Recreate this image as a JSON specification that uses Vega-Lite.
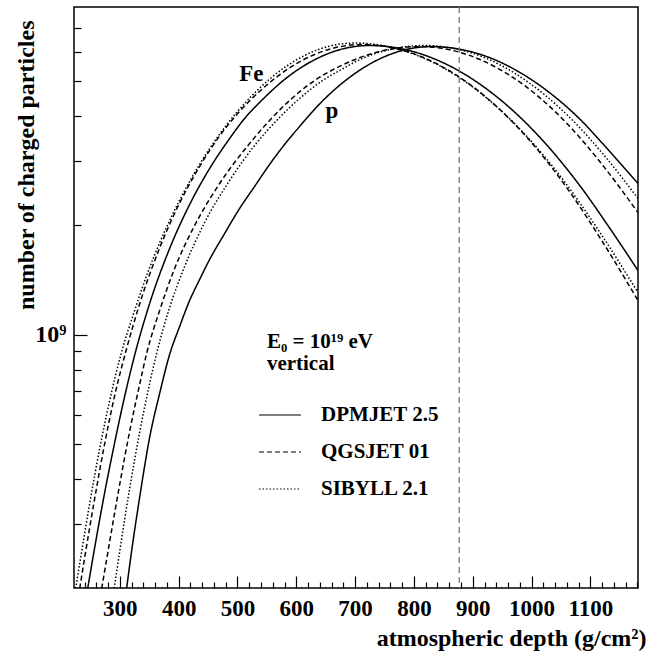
{
  "$schema": "https://vega.github.io/schema/vega-lite/v6.json",
  "width": 564,
  "height": 581,
  "autosize": {"type": "none"},
  "padding": {"left": 74, "top": 7, "right": 11, "bottom": 69},
  "config": {"view": {"stroke": "#000", "strokeWidth": 1.5}, "font": "Liberation Serif"},
  "datasets": {
    "curves": [
      {"model":"DPMJET 2.5","primary":"p","depth":311.5,"n":0.1994e9},
      {"model":"DPMJET 2.5","primary":"p","depth":316.6,"n":0.2307e9},
      {"model":"DPMJET 2.5","primary":"p","depth":333.6,"n":0.3553e9},
      {"model":"DPMJET 2.5","primary":"p","depth":350.6,"n":0.5200e9},
      {"model":"DPMJET 2.5","primary":"p","depth":367.6,"n":0.6876e9},
      {"model":"DPMJET 2.5","primary":"p","depth":384.6,"n":0.8808e9},
      {"model":"DPMJET 2.5","primary":"p","depth":401.6,"n":1.0521e9},
      {"model":"DPMJET 2.5","primary":"p","depth":418.6,"n":1.2410e9},
      {"model":"DPMJET 2.5","primary":"p","depth":435.6,"n":1.4180e9},
      {"model":"DPMJET 2.5","primary":"p","depth":452.6,"n":1.6099e9},
      {"model":"DPMJET 2.5","primary":"p","depth":478.1,"n":1.8988e9},
      {"model":"DPMJET 2.5","primary":"p","depth":503.5,"n":2.2253e9},
      {"model":"DPMJET 2.5","primary":"p","depth":529.0,"n":2.5590e9},
      {"model":"DPMJET 2.5","primary":"p","depth":554.5,"n":2.9428e9},
      {"model":"DPMJET 2.5","primary":"p","depth":580.0,"n":3.3410e9},
      {"model":"DPMJET 2.5","primary":"p","depth":605.5,"n":3.7453e9},
      {"model":"DPMJET 2.5","primary":"p","depth":639.5,"n":4.3210e9},
      {"model":"DPMJET 2.5","primary":"p","depth":685.3,"n":5.041e9},
      {"model":"DPMJET 2.5","primary":"p","depth":724.4,"n":5.563e9},
      {"model":"DPMJET 2.5","primary":"p","depth":775.4,"n":6.040e9},
      {"model":"DPMJET 2.5","primary":"p","depth":829.8,"n":6.223e9},
      {"model":"DPMJET 2.5","primary":"p","depth":877.3,"n":6.121e9},
      {"model":"DPMJET 2.5","primary":"p","depth":928.3,"n":5.804e9},
      {"model":"DPMJET 2.5","primary":"p","depth":979.3,"n":5.290e9},
      {"model":"DPMJET 2.5","primary":"p","depth":1030.3,"n":4.648e9},
      {"model":"DPMJET 2.5","primary":"p","depth":1081.2,"n":3.940e9},
      {"model":"DPMJET 2.5","primary":"p","depth":1132.2,"n":3.206e9},
      {"model":"DPMJET 2.5","primary":"p","depth":1181,"n":2.608e9},

      {"model":"SIBYLL 2.1","primary":"p","depth":290.3,"n":0.1994e9},
      {"model":"SIBYLL 2.1","primary":"p","depth":299.7,"n":0.2522e9},
      {"model":"SIBYLL 2.1","primary":"p","depth":316.6,"n":0.3762e9},
      {"model":"SIBYLL 2.1","primary":"p","depth":333.6,"n":0.5368e9},
      {"model":"SIBYLL 2.1","primary":"p","depth":350.6,"n":0.7327e9},
      {"model":"SIBYLL 2.1","primary":"p","depth":362.5,"n":0.8864e9},
      {"model":"SIBYLL 2.1","primary":"p","depth":384.6,"n":1.1870e9},
      {"model":"SIBYLL 2.1","primary":"p","depth":410.1,"n":1.5399e9},
      {"model":"SIBYLL 2.1","primary":"p","depth":444.1,"n":2.0361e9},
      {"model":"SIBYLL 2.1","primary":"p","depth":486.6,"n":2.6583e9},
      {"model":"SIBYLL 2.1","primary":"p","depth":529.0,"n":3.3196e9},
      {"model":"SIBYLL 2.1","primary":"p","depth":571.5,"n":3.9659e9},
      {"model":"SIBYLL 2.1","primary":"p","depth":605.5,"n":4.4737e9},
      {"model":"SIBYLL 2.1","primary":"p","depth":644.6,"n":5.0156e9},
      {"model":"SIBYLL 2.1","primary":"p","depth":673.5,"n":5.3442e9},
      {"model":"SIBYLL 2.1","primary":"p","depth":715.9,"n":5.8042e9},
      {"model":"SIBYLL 2.1","primary":"p","depth":766.9,"n":6.1453e9},
      {"model":"SIBYLL 2.1","primary":"p","depth":817.9,"n":6.2634e9},
      {"model":"SIBYLL 2.1","primary":"p","depth":868.9,"n":6.1453e9},
      {"model":"SIBYLL 2.1","primary":"p","depth":919.8,"n":5.8042e9},
      {"model":"SIBYLL 2.1","primary":"p","depth":970.8,"n":5.2600e9},
      {"model":"SIBYLL 2.1","primary":"p","depth":1021.8,"n":4.5890e9},
      {"model":"SIBYLL 2.1","primary":"p","depth":1072.7,"n":3.8538e9},
      {"model":"SIBYLL 2.1","primary":"p","depth":1123.7,"n":3.1154e9},
      {"model":"SIBYLL 2.1","primary":"p","depth":1181,"n":2.3712e9},

      {"model":"QGSJET 01","primary":"p","depth":269.1,"n":0.1994e9},
      {"model":"QGSJET 01","primary":"p","depth":282.7,"n":0.2687e9},
      {"model":"QGSJET 01","primary":"p","depth":299.7,"n":0.3859e9},
      {"model":"QGSJET 01","primary":"p","depth":316.6,"n":0.5402e9},
      {"model":"QGSJET 01","primary":"p","depth":333.6,"n":0.7280e9},
      {"model":"QGSJET 01","primary":"p","depth":345.5,"n":0.8864e9},
      {"model":"QGSJET 01","primary":"p","depth":367.6,"n":1.1646e9},
      {"model":"QGSJET 01","primary":"p","depth":393.1,"n":1.5205e9},
      {"model":"QGSJET 01","primary":"p","depth":427.1,"n":1.9977e9},
      {"model":"QGSJET 01","primary":"p","depth":469.6,"n":2.6081e9},
      {"model":"QGSJET 01","primary":"p","depth":520.5,"n":3.3620e9},
      {"model":"QGSJET 01","primary":"p","depth":554.5,"n":3.8907e9},
      {"model":"QGSJET 01","primary":"p","depth":588.5,"n":4.4174e9},
      {"model":"QGSJET 01","primary":"p","depth":631.0,"n":5.0156e9},
      {"model":"QGSJET 01","primary":"p","depth":665.0,"n":5.3989e9},
      {"model":"QGSJET 01","primary":"p","depth":707.4,"n":5.7968e9},
      {"model":"QGSJET 01","primary":"p","depth":758.4,"n":6.1143e9},
      {"model":"QGSJET 01","primary":"p","depth":809.4,"n":6.2240e9},
      {"model":"QGSJET 01","primary":"p","depth":860.4,"n":6.0987e9},
      {"model":"QGSJET 01","primary":"p","depth":911.3,"n":5.7418e9},
      {"model":"QGSJET 01","primary":"p","depth":962.3,"n":5.1904e9},
      {"model":"QGSJET 01","primary":"p","depth":1013.3,"n":4.5079e9},
      {"model":"QGSJET 01","primary":"p","depth":1064.2,"n":3.7594e9},
      {"model":"QGSJET 01","primary":"p","depth":1115.2,"n":3.0104e9},
      {"model":"QGSJET 01","primary":"p","depth":1181,"n":2.1695e9},

      {"model":"DPMJET 2.5","primary":"Fe","depth":245.3,"n":0.1994e9},
      {"model":"DPMJET 2.5","primary":"Fe","depth":257.2,"n":0.2587e9},
      {"model":"DPMJET 2.5","primary":"Fe","depth":274.2,"n":0.3668e9},
      {"model":"DPMJET 2.5","primary":"Fe","depth":291.2,"n":0.5038e9},
      {"model":"DPMJET 2.5","primary":"Fe","depth":308.1,"n":0.6746e9},
      {"model":"DPMJET 2.5","primary":"Fe","depth":326.8,"n":0.8977e9},
      {"model":"DPMJET 2.5","primary":"Fe","depth":350.6,"n":1.2175e9},
      {"model":"DPMJET 2.5","primary":"Fe","depth":384.6,"n":1.7262e9},
      {"model":"DPMJET 2.5","primary":"Fe","depth":418.6,"n":2.2826e9},
      {"model":"DPMJET 2.5","primary":"Fe","depth":452.6,"n":2.8688e9},
      {"model":"DPMJET 2.5","primary":"Fe","depth":486.6,"n":3.4705e9},
      {"model":"DPMJET 2.5","primary":"Fe","depth":512.0,"n":3.9404e9},
      {"model":"DPMJET 2.5","primary":"Fe","depth":540.9,"n":4.4174e9},
      {"model":"DPMJET 2.5","primary":"Fe","depth":576.6,"n":4.9966e9},
      {"model":"DPMJET 2.5","primary":"Fe","depth":605.5,"n":5.4125e9},
      {"model":"DPMJET 2.5","primary":"Fe","depth":639.5,"n":5.8115e9},
      {"model":"DPMJET 2.5","primary":"Fe","depth":682.0,"n":6.1492e9},
      {"model":"DPMJET 2.5","primary":"Fe","depth":724.4,"n":6.2634e9},
      {"model":"DPMJET 2.5","primary":"Fe","depth":775.4,"n":6.1531e9},
      {"model":"DPMJET 2.5","primary":"Fe","depth":826.4,"n":5.8263e9},
      {"model":"DPMJET 2.5","primary":"Fe","depth":877.3,"n":5.3240e9},
      {"model":"DPMJET 2.5","primary":"Fe","depth":928.3,"n":4.6920e9},
      {"model":"DPMJET 2.5","primary":"Fe","depth":979.3,"n":3.9904e9},
      {"model":"DPMJET 2.5","primary":"Fe","depth":1030.3,"n":3.2694e9},
      {"model":"DPMJET 2.5","primary":"Fe","depth":1081.2,"n":2.5850e9},
      {"model":"DPMJET 2.5","primary":"Fe","depth":1132.2,"n":1.9725e9},
      {"model":"DPMJET 2.5","primary":"Fe","depth":1181,"n":1.5012e9},

      {"model":"QGSJET 01","primary":"Fe","depth":231.7,"n":0.1994e9},
      {"model":"QGSJET 01","primary":"Fe","depth":240.2,"n":0.2428e9},
      {"model":"QGSJET 01","primary":"Fe","depth":257.2,"n":0.3531e9},
      {"model":"QGSJET 01","primary":"Fe","depth":274.2,"n":0.5006e9},
      {"model":"QGSJET 01","primary":"Fe","depth":291.2,"n":0.6789e9},
      {"model":"QGSJET 01","primary":"Fe","depth":311.5,"n":0.9150e9},
      {"model":"QGSJET 01","primary":"Fe","depth":333.6,"n":1.2136e9},
      {"model":"QGSJET 01","primary":"Fe","depth":367.6,"n":1.7317e9},
      {"model":"QGSJET 01","primary":"Fe","depth":401.6,"n":2.3044e9},
      {"model":"QGSJET 01","primary":"Fe","depth":435.6,"n":2.9053e9},
      {"model":"QGSJET 01","primary":"Fe","depth":469.6,"n":3.5283e9},
      {"model":"QGSJET 01","primary":"Fe","depth":490.0,"n":3.8907e9},
      {"model":"QGSJET 01","primary":"Fe","depth":520.5,"n":4.4062e9},
      {"model":"QGSJET 01","primary":"Fe","depth":557.9,"n":4.9997e9},
      {"model":"QGSJET 01","primary":"Fe","depth":591.9,"n":5.4817e9},
      {"model":"QGSJET 01","primary":"Fe","depth":625.9,"n":5.8671e9},
      {"model":"QGSJET 01","primary":"Fe","depth":668.4,"n":6.1922e9},
      {"model":"QGSJET 01","primary":"Fe","depth":710.8,"n":6.3033e9},
      {"model":"QGSJET 01","primary":"Fe","depth":761.8,"n":6.1803e9},
      {"model":"QGSJET 01","primary":"Fe","depth":812.8,"n":5.8337e9},
      {"model":"QGSJET 01","primary":"Fe","depth":863.8,"n":5.2936e9},
      {"model":"QGSJET 01","primary":"Fe","depth":914.7,"n":4.6239e9},
      {"model":"QGSJET 01","primary":"Fe","depth":965.7,"n":3.8833e9},
      {"model":"QGSJET 01","primary":"Fe","depth":1016.7,"n":3.1393e9},
      {"model":"QGSJET 01","primary":"Fe","depth":1067.6,"n":2.4383e9},
      {"model":"QGSJET 01","primary":"Fe","depth":1118.6,"n":1.8243e9},
      {"model":"QGSJET 01","primary":"Fe","depth":1181,"n":1.2410e9},

      {"model":"SIBYLL 2.1","primary":"Fe","depth":224.9,"n":0.1994e9},
      {"model":"SIBYLL 2.1","primary":"Fe","depth":231.7,"n":0.2337e9},
      {"model":"SIBYLL 2.1","primary":"Fe","depth":248.7,"n":0.3420e9},
      {"model":"SIBYLL 2.1","primary":"Fe","depth":265.7,"n":0.4849e9},
      {"model":"SIBYLL 2.1","primary":"Fe","depth":282.7,"n":0.6577e9},
      {"model":"SIBYLL 2.1","primary":"Fe","depth":301.3,"n":0.8752e9},
      {"model":"SIBYLL 2.1","primary":"Fe","depth":325.1,"n":1.1646e9},
      {"model":"SIBYLL 2.1","primary":"Fe","depth":350.6,"n":1.5301e9},
      {"model":"SIBYLL 2.1","primary":"Fe","depth":384.6,"n":2.0622e9},
      {"model":"SIBYLL 2.1","primary":"Fe","depth":418.6,"n":2.6414e9},
      {"model":"SIBYLL 2.1","primary":"Fe","depth":452.6,"n":3.2570e9},
      {"model":"SIBYLL 2.1","primary":"Fe","depth":483.2,"n":3.8173e9},
      {"model":"SIBYLL 2.1","primary":"Fe","depth":512.0,"n":4.3340e9},
      {"model":"SIBYLL 2.1","primary":"Fe","depth":554.5,"n":5.0604e9},
      {"model":"SIBYLL 2.1","primary":"Fe","depth":583.4,"n":5.4958e9},
      {"model":"SIBYLL 2.1","primary":"Fe","depth":614.0,"n":5.8783e9},
      {"model":"SIBYLL 2.1","primary":"Fe","depth":656.5,"n":6.2396e9},
      {"model":"SIBYLL 2.1","primary":"Fe","depth":698.9,"n":6.3634e9},
      {"model":"SIBYLL 2.1","primary":"Fe","depth":749.9,"n":6.2515e9},
      {"model":"SIBYLL 2.1","primary":"Fe","depth":800.9,"n":5.9232e9},
      {"model":"SIBYLL 2.1","primary":"Fe","depth":851.9,"n":5.4160e9},
      {"model":"SIBYLL 2.1","primary":"Fe","depth":902.8,"n":4.7762e9},
      {"model":"SIBYLL 2.1","primary":"Fe","depth":953.8,"n":4.0620e9},
      {"model":"SIBYLL 2.1","primary":"Fe","depth":1004.8,"n":3.3365e9},
      {"model":"SIBYLL 2.1","primary":"Fe","depth":1055.8,"n":2.6414e9},
      {"model":"SIBYLL 2.1","primary":"Fe","depth":1115.2,"n":1.9231e9},
      {"model":"SIBYLL 2.1","primary":"Fe","depth":1181,"n":1.3056e9}
    ],
    "marker": [{"depth": 877}],
    "labels": [
      {"text": "Fe", "depth": 523.4, "n": 5.015e9, "kind": "big"},
      {"text": "p", "depth": 660.7, "n": 3.966e9, "kind": "big"},
      {"text": "E₀ = 10¹⁹ eV", "depth": 550, "n": 0.92e9, "kind": "left"},
      {"text": "vertical", "depth": 550, "n": 0.80e9, "kind": "left"}
    ]
  },
  "layer": [
    {
      "data": {"name": "curves"},
      "mark": {"type": "line", "strokeWidth": 1.5, "color": "#000", "clip": true, "interpolate": "monotone"},
      "encoding": {
        "x": {
          "field": "depth", "type": "quantitative",
          "scale": {"domain": [222, 1181], "nice": false, "zero": false},
          "axis": {
            "orient": "bottom", "values": [300, 400, 500, 600, 700, 800, 900, 1000, 1100], "format": "d",
            "tickSize": -12, "tickWidth": 1.2, "tickColor": "#000", "domain": false, "grid": false,
            "labelFont": "Liberation Serif", "labelFontWeight": "bold", "labelFontSize": 23, "labelColor": "#000",
            "labelPadding": 21, "labelFlush": false, "labelOverlap": false,
            "title": "atmospheric depth (g/cm²)", "titleFont": "Liberation Serif", "titleFontSize": 24,
            "titleFontWeight": "bold", "titleColor": "#000", "titleAnchor": "end", "titleAlign": "right",
            "titleX": 572, "titleY": 57, "titleBaseline": "alphabetic"
          }
        },
        "y": {
          "field": "n", "type": "quantitative",
          "scale": {"type": "log", "domain": [2e8, 8e9], "nice": false},
          "axis": {
            "orient": "left", "values": [1e9], "labelExpr": "'10⁹'",
            "tickSize": -13, "tickWidth": 1.2, "tickColor": "#000", "domain": false, "grid": false,
            "labelFont": "Liberation Serif", "labelFontWeight": "bold", "labelFontSize": 24, "labelColor": "#000",
            "labelPadding": 21,
            "title": "number of charged particles", "titleFont": "Liberation Serif", "titleFontSize": 24,
            "titleFontWeight": "bold", "titleColor": "#000", "titleAngle": -90, "titleAlign": "right",
            "titleX": -41, "titleY": 13, "titleBaseline": "alphabetic"
          }
        },
        "strokeDash": {
          "field": "model", "type": "nominal",
          "scale": {"domain": ["DPMJET 2.5", "QGSJET 01", "SIBYLL 2.1"], "range": [[1, 0], [5, 3], [1.5, 2]]},
          "legend": {
            "orient": "none", "legendX": 184, "legendY": 386, "title": null,
            "symbolType": "stroke", "symbolSize": 1764, "symbolStrokeWidth": 1.2, "symbolStrokeColor": "#000",
            "labelFont": "Liberation Serif", "labelFontWeight": "bold", "labelFontSize": 21, "labelColor": "#000",
            "labelOffset": 19, "rowPadding": 5
          }
        },
        "detail": {"field": "primary"}
      }
    },
    {
      "data": {"name": "marker"},
      "mark": {"type": "rule", "color": "#777", "strokeDash": [6, 4], "strokeWidth": 1.3},
      "encoding": {
        "x": {
          "field": "depth", "type": "quantitative",
          "scale": {"domain": [222, 1181], "nice": false, "zero": false},
          "axis": {
            "orient": "bottom",
            "values": [240, 260, 280, 320, 340, 360, 380, 420, 440, 460, 480, 520, 540, 560, 580, 620, 640, 660, 680, 720, 740, 760, 780, 820, 840, 860, 880, 920, 940, 960, 980, 1020, 1040, 1060, 1080, 1120, 1140, 1160, 1180],
            "tickSize": -6, "tickWidth": 1.2, "tickColor": "#000", "labels": false, "domain": false, "grid": false, "title": null
          }
        }
      }
    },
    {
      "data": {"name": "labels"},
      "transform": [{"filter": "datum.kind === 'left'"}],
      "mark": {"type": "text", "align": "left", "baseline": "alphabetic", "font": "Liberation Serif", "fontWeight": "bold", "fontSize": 21, "color": "#000"},
      "encoding": {
        "x": {"field": "depth", "type": "quantitative", "axis": null},
        "y": {
          "field": "n", "type": "quantitative",
          "axis": {
            "orient": "left",
            "values": [3e8, 4e8, 5e8, 6e8, 7e8, 8e8, 9e8, 2e9, 3e9, 4e9, 5e9, 6e9, 7e9],
            "tickSize": -7, "tickWidth": 1.2, "tickColor": "#000", "labels": false, "domain": false, "grid": false, "title": null
          }
        },
        "text": {"field": "text"}
      }
    },
    {
      "data": {"name": "labels"},
      "transform": [{"filter": "datum.kind === 'big'"}],
      "mark": {"type": "text", "align": "center", "baseline": "alphabetic", "font": "Liberation Serif", "fontWeight": "bold", "fontSize": 23, "color": "#000"},
      "encoding": {
        "x": {"field": "depth", "type": "quantitative", "axis": null},
        "y": {"field": "n", "type": "quantitative", "axis": null},
        "text": {"field": "text"}
      }
    }
  ],
  "resolve": {"axis": {"x": "independent", "y": "independent"}}
}
